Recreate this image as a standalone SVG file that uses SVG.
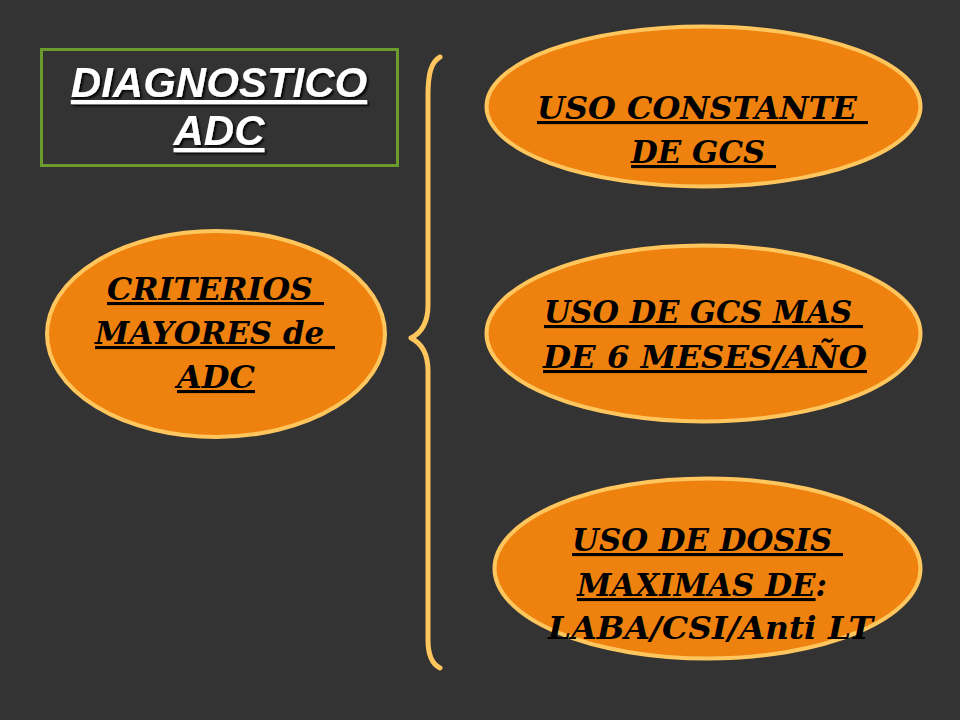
<svg xmlns="http://www.w3.org/2000/svg" width="960" height="720" viewBox="0 0 960 720">
<defs>
<style>
.bg{fill:#333333}
.oval{fill:#EF820E;stroke:#FFC65E;stroke-width:4}
.title{font-family:"Liberation Sans",Arial,sans-serif;font-weight:bold;font-style:italic;font-size:42px;fill:#ffffff;text-decoration:underline;text-anchor:middle}
.lbl{font-family:"DejaVu Serif","Liberation Serif",serif;font-weight:bold;font-style:italic;font-size:31px;fill:#000000;text-anchor:middle;white-space:pre}
.u{text-decoration:underline}
.brace{fill:none;stroke:#FFC65E;stroke-width:5;stroke-linecap:round;stroke-linejoin:round}
</style>
<filter id="shadow" x="-10%" y="-20%" width="120%" height="150%">
<feDropShadow dx="2" dy="2" stdDeviation="1" flood-color="#000000" flood-opacity="0.9"/>
</filter>
</defs>
<rect class="bg" x="0" y="0" width="960" height="720"/>

<g id="title">
<rect x="41.5" y="49.5" width="356" height="116" fill="none" stroke="#6A9B2C" stroke-width="3"/>
<text class="title" filter="url(#shadow)"><tspan x="219" y="97">DIAGNOSTICO</tspan><tspan x="219" y="145">ADC</tspan></text>
</g>

<g id="connectors">
<path class="brace" d="M440,57 C431,62 428,74 428,95 L428,305 C428,322 421,333 411,338 C421,343 428,354 428,371 L428,640 C428,656 432,664 440,668"/>
</g>

<g id="criterios">
<ellipse class="oval" cx="216" cy="334" rx="169" ry="103"/>
<text class="lbl u" xml:space="preserve" x="215.5" y="300" textLength="217" lengthAdjust="spacingAndGlyphs">CRITERIOS </text>
<text class="lbl u" xml:space="preserve" x="215" y="344" textLength="240" lengthAdjust="spacingAndGlyphs">MAYORES de </text>
<text class="lbl u" x="216" y="388" textLength="78" lengthAdjust="spacingAndGlyphs">ADC</text>
</g>

<g id="uso-constante">
<ellipse class="oval" cx="703.5" cy="106.5" rx="217" ry="80"/>
<text class="lbl u" xml:space="preserve" x="702.5" y="119" textLength="331" lengthAdjust="spacingAndGlyphs">USO CONSTANTE </text>
<text class="lbl u" xml:space="preserve" x="703.5" y="163" textLength="145" lengthAdjust="spacingAndGlyphs">DE GCS </text>
</g>

<g id="uso-6-meses">
<ellipse class="oval" cx="703.5" cy="333.5" rx="217" ry="88"/>
<text class="lbl u" xml:space="preserve" x="703.5" y="323" textLength="319" lengthAdjust="spacingAndGlyphs">USO DE GCS MAS </text>
<text class="lbl u" x="705" y="368" textLength="324" lengthAdjust="spacingAndGlyphs">DE 6 MESES/AÑO</text>
</g>

<g id="dosis-maximas">
<ellipse class="oval" cx="707.5" cy="568.5" rx="213" ry="90"/>
<text class="lbl u" xml:space="preserve" x="707.5" y="551" textLength="271" lengthAdjust="spacingAndGlyphs">USO DE DOSIS </text>
<text class="lbl" x="702" y="596" textLength="250" lengthAdjust="spacingAndGlyphs"><tspan class="u">MAXIMAS DE</tspan>:</text>
<text class="lbl" x="710.5" y="639" textLength="325" lengthAdjust="spacingAndGlyphs">LABA/CSI/Anti LT</text>
</g>
</svg>
